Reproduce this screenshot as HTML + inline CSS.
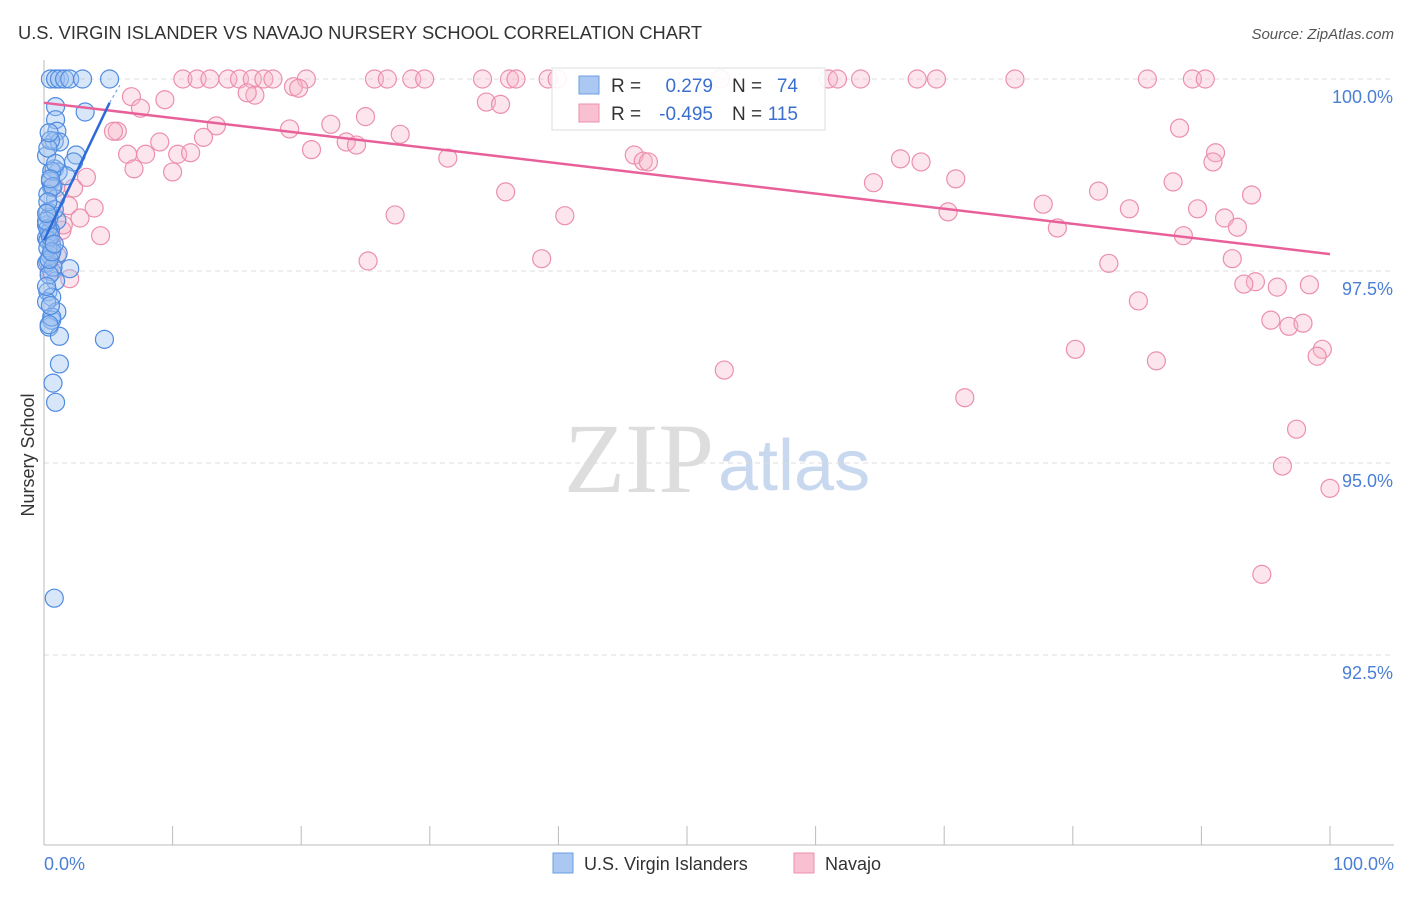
<!DOCTYPE html>
<html><head><meta charset="utf-8"><style>
body{margin:0;background:#fff;font-family:"Liberation Sans",sans-serif}
</style></head><body>
<svg width="1406" height="892" xmlns="http://www.w3.org/2000/svg" font-family="Liberation Sans, sans-serif">
<text x="18" y="39" font-size="18.3" fill="#333">U.S. VIRGIN ISLANDER VS NAVAJO NURSERY SCHOOL CORRELATION CHART</text>
<text x="1394" y="39" font-size="15" fill="#555" font-style="italic" text-anchor="end">Source: ZipAtlas.com</text>
<text x="714" y="492" font-size="100" fill="#ddd" text-anchor="end" font-family="Liberation Serif, serif">ZIP</text>
<text x="718" y="490" font-size="72" fill="#c8d8ef">atlas</text>
<g id="grid"></g>
<g id="axes"></g>
<g id="pts"></g>
<g id="trends"></g>
<text transform="translate(34,455) rotate(-90)" font-size="18" fill="#333" text-anchor="middle">Nursery School</text>
<text x="44" y="870" font-size="18" fill="#4a7fd4">0.0%</text>
<text x="1394" y="870" font-size="18" fill="#4a7fd4" text-anchor="end">100.0%</text>
<g>
<rect x="552" y="68" width="273" height="62" fill="#fff" fill-opacity="0.9" stroke="#ddd"/>
<rect x="579" y="76" width="20" height="18" fill="#aac8f2" stroke="#6a9fe0"/>
<rect x="579" y="104" width="20" height="18" fill="#f8c0d0" stroke="#ec90ae"/>
<text x="611" y="92" font-size="19" fill="#333">R =</text>
<text x="713" y="92" font-size="19" fill="#3a6fd0" text-anchor="end">0.279</text>
<text x="732" y="92" font-size="19" fill="#333">N =</text>
<text x="798" y="92" font-size="19" fill="#3a6fd0" text-anchor="end">74</text>
<text x="611" y="120" font-size="19" fill="#333">R =</text>
<text x="713" y="120" font-size="19" fill="#3a6fd0" text-anchor="end">-0.495</text>
<text x="732" y="120" font-size="19" fill="#333">N =</text>
<text x="798" y="120" font-size="19" fill="#3a6fd0" text-anchor="end">115</text>
</g>
<g>
<rect x="553" y="853" width="20" height="20" fill="#aac8f2" stroke="#6a9fe0"/>
<text x="584" y="870" font-size="18" fill="#333">U.S. Virgin Islanders</text>
<rect x="794" y="853" width="20" height="20" fill="#f8c0d0" stroke="#ec90ae"/>
<text x="825" y="870" font-size="18" fill="#333">Navajo</text>
</g>
</svg>
<script>
const yTicks=[100,97.5,95,92.5];
const yTickLabels=["100.0%","97.5%","95.0%","92.5%"];
const xTicks=[0,10,20,30,40,50,60,70,80,90,100];
const blueX=[0.5,0.9,1.2,1.6,2.0,3.0,5.1,0.9,3.2,0.9,1.0,0.8,1.2,2.5,2.3,0.8,1.1,1.7,0.5,0.6,0.9,0.3,1.0,0.5,0.2,0.6,1.1,0.3,2.0,0.6,0.9,0.3,0.6,1.0,0.6,0.4,1.2,4.7,1.2,0.7,0.9,0.8,0.2,0.4,0.3,0.5,0.2,0.7,0.4,0.3,0.6,0.2,0.5,0.8,0.3,0.4,0.2,0.6,0.3,0.5,0.2,0.4,0.7,0.3,0.9,0.2,0.5,0.4,0.3,0.6,0.2,0.8,0.5,0.4];
const blueY=[100,100,100,100,100,100,100,99.64,99.57,99.47,99.32,99.19,99.18,99.01,98.92,98.83,98.79,98.74,98.67,98.59,98.44,98.27,98.16,98.03,97.93,97.83,97.73,97.62,97.53,97.49,97.37,97.23,97.16,96.97,96.86,96.77,96.65,96.61,96.29,96.04,95.79,93.24,98.1,98.0,97.9,97.7,97.6,97.55,98.2,98.5,98.8,99.0,99.2,98.3,97.8,97.45,97.1,96.9,98.05,97.95,98.15,97.65,98.6,99.1,98.9,97.3,97.05,96.8,98.4,97.75,98.25,97.85,98.7,99.3];
const pinkX=[10.8,11.9,12.9,14.3,15.2,16.2,17.1,17.8,20.4,25.7,26.7,28.6,29.6,34.1,36.2,36.7,39.2,39.9,52.6,61.0,61.7,63.5,67.9,69.4,75.5,85.8,89.3,90.3,6.8,9.4,7.5,5.7,5.4,13.4,19.1,22.3,25.0,27.7,9.0,23.5,24.3,6.5,7.9,10.4,11.4,12.4,20.8,31.4,45.9,46.6,47.0,66.6,68.2,7.0,10.0,3.3,2.3,0.9,1.9,3.9,2.8,1.4,4.4,16.4,19.4,19.8,34.4,35.5,15.8,35.9,27.3,40.5,25.2,38.7,52.9,64.5,70.9,70.3,77.7,82.0,78.8,84.4,88.6,87.8,89.7,91.8,92.8,88.3,91.1,90.9,93.9,92.4,82.8,94.2,93.3,95.9,98.4,85.1,95.4,96.8,97.9,80.2,86.5,99.4,99.0,71.6,97.4,96.3,100,94.7,1.0,0.6,1.5,2.0,0.4];
const pinkY=[100,100,100,100,100,100,100,100,100,100,100,100,100,100,100,100,100,100,100,100,100,100,100,100,100,100,100,100,99.77,99.73,99.62,99.32,99.32,99.39,99.35,99.41,99.51,99.28,99.18,99.18,99.14,99.02,99.02,99.02,99.04,99.24,99.08,98.97,99.01,98.93,98.92,98.96,98.92,98.83,98.79,98.72,98.58,98.58,98.35,98.32,98.19,98.03,97.96,99.79,99.90,99.88,99.70,99.67,99.82,98.53,98.23,98.22,97.63,97.66,96.21,98.65,98.70,98.27,98.37,98.54,98.06,98.31,97.96,98.66,98.31,98.19,98.07,99.36,99.04,98.92,98.49,97.66,97.60,97.36,97.33,97.29,97.32,97.11,96.86,96.78,96.82,96.48,96.33,96.48,96.39,95.85,95.44,94.96,94.67,93.55,97.7,97.9,98.1,97.4,97.5];
const blueTrend=[[0,97.9],[5.1,99.69]];
const blueTrendExt=[[5.1,99.69],[5.9,99.92]];
const pinkTrend=[[0,99.69],[100,97.72]];
const NS="http://www.w3.org/2000/svg";
const sx=v=>44+v*12.86, sy=v=>79+(100-v)*76.8;
function mk(t,a,p){const e=document.createElementNS(NS,t);for(const k in a)e.setAttribute(k,a[k]);document.getElementById(p).appendChild(e);return e;}
yTicks.forEach((t,i)=>{
 const l=mk('line',{x1:44,x2:1394,y1:sy(t),y2:sy(t),stroke:'#ddd','stroke-dasharray':'5,4'},'grid');
 
 
 const tx=mk('text',{x:1393,y:sy(t)+24,'font-size':18,fill:'#4a7fd4','text-anchor':'end'},'grid');
 tx.textContent=yTickLabels[i];
 
 
});
const ax=mk('line',{x1:44,x2:1394,y1:845,y2:845,stroke:'#bbb'},'axes');


const ay=mk('line',{x1:44,x2:44,y1:60,y2:845,stroke:'#bbb'},'axes');


xTicks.forEach(t=>{
 const l=mk('line',{x1:sx(t),x2:sx(t),y1:826,y2:845,stroke:'#bbb'},'axes');
 
 
});
pinkX.forEach((x,i)=>{
 const c=mk('circle',{cx:sx(x),cy:sy(pinkY[i]),r:9,fill:'#f6b4c8','fill-opacity':0.35,stroke:'#ec8fae','stroke-width':1.2},'pts');
 
 
});
blueX.forEach((x,i)=>{
 const c=mk('circle',{cx:sx(x),cy:sy(blueY[i]),r:9,fill:'#9ec1ef','fill-opacity':0.4,stroke:'#4f8be0','stroke-width':1.2},'pts');
 
 
});
const pt=mk('line',{x1:sx(pinkTrend[0][0]),y1:sy(pinkTrend[0][1]),x2:sx(pinkTrend[1][0]),y2:sy(pinkTrend[1][1]),stroke:'#e8609a','stroke-width':2.5},'trends');


const bt=mk('line',{x1:sx(blueTrend[0][0]),y1:sy(blueTrend[0][1]),x2:sx(blueTrend[1][0]),y2:sy(blueTrend[1][1]),stroke:'#2d6ad8','stroke-width':2.5},'trends');


const be=mk('line',{x1:sx(blueTrendExt[0][0]),y1:sy(blueTrendExt[0][1]),x2:sx(blueTrendExt[1][0]),y2:sy(blueTrendExt[1][1]),stroke:'#7aa3e6','stroke-width':1.2,'stroke-dasharray':'3,3'},'trends');


</script>
</body></html>
